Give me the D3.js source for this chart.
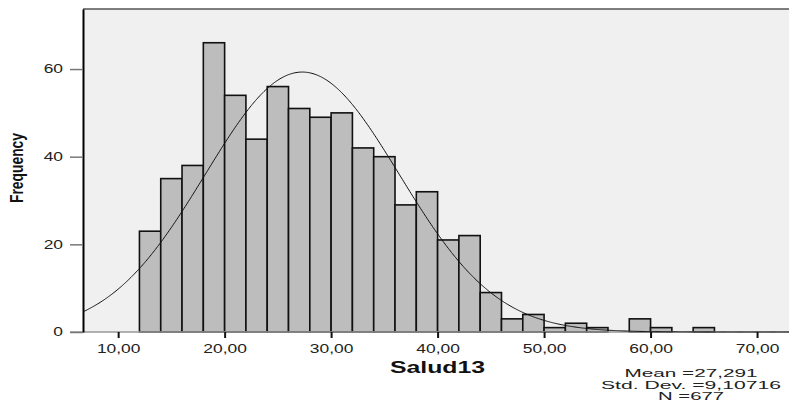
<!DOCTYPE html>
<html lang="es">
  <head>
    <meta charset="utf-8">
    <title>Salud13 histogram</title>
    <script type="text/javascript" src="https://d3js.org/d3.v7.min.js"></script>
    <style>
      body { margin: 0; background: #fff; }
      text { font-family: "Liberation Sans", Arial, sans-serif; fill: #111; }
    </style>
  </head>
  <body>
    <svg class="hist"></svg>
  </body>

  <script>
    //bin edges (lower bound of each bin, width 2) and counts
    const binStarts = [12, 14, 16, 18, 20, 22, 24, 26, 28, 30, 32, 34, 36, 38, 40, 42, 44, 46, 48, 50, 52, 54, 56, 58, 60, 62, 64];
    const counts    = [23, 35, 38, 66, 54, 44, 56, 51, 49, 50, 42, 40, 29, 32, 21, 22,  9,  3,  4,  1,  2,  1,  0,  3,  1,  0,  1];
    const binWidth = 2;
    const xTicks = [10, 20, 30, 40, 50, 60, 70];
    const yTicks = [0, 20, 40, 60];
    const mean = 27.291;
    const stdDev = 9.10716;
    const n = 677;
    const statLines = ["Mean =27,291", "Std. Dev. =9,10716", "N =677"];
    const statWidths = [133, 180, 66];

    const width = 790, height = 403;
    const plot = {left: 83, right: 789, top: 9, bottom: 332};

    const svg = d3.select(".hist").attr("width", width).attr("height", height);

    const x = d3.scaleLinear().domain([6.7, 73.0]).range([plot.left, plot.right]);
    const y = d3.scaleLinear().domain([0, 73.7]).range([plot.bottom, plot.top]);

    const es = d3.formatLocale({decimal: ",", thousands: ".", grouping: [3], currency: ["", ""]});
    const fmt = es.format(".2f");

    //the text in the picture is stretched sideways, so widen each label by a factor
    function stretch(sel, k) {
      sel.each(function() {
        var w = this.getComputedTextLength();
        d3.select(this).attr("textLength", w * k).attr("lengthAdjust", "spacingAndGlyphs");
      });
    }

    //plot background
    svg.append("rect")
      .attr("x", plot.left).attr("y", plot.top)
      .attr("width", plot.right - plot.left).attr("height", plot.bottom - plot.top)
      .attr("fill", "#f0f0f0");

    svg.append("line")
      .attr("x1", plot.left).attr("x2", plot.right)
      .attr("y1", plot.top).attr("y2", plot.top)
      .attr("stroke", "#555").attr("stroke-width", 1.5);

    //bars
    svg.selectAll(".bar")
      .data(binStarts)
      .enter().append("rect")
        .attr("class", "bar")
        .attr("x", d => x(d))
        .attr("width", d => x(d + binWidth) - x(d))
        .attr("y", (d, i) => y(counts[i]))
        .attr("height", (d, i) => y(0) - y(counts[i]))
        .attr("fill", "#bdbdbd")
        .attr("stroke", "#111")
        .attr("stroke-width", 1.6);

    //baseline
    svg.append("line")
      .attr("x1", 70).attr("x2", plot.right)
      .attr("y1", y(0)).attr("y2", y(0))
      .attr("stroke", "#999").attr("stroke-width", 1.5);

    //normal curve
    const curveXs = d3.range(6.7, 73.01, 0.1);
    const norm = v => n * binWidth / (stdDev * Math.sqrt(2 * Math.PI)) * Math.exp(-0.5 * Math.pow((v - mean) / stdDev, 2));
    svg.append("path")
      .datum(curveXs)
      .attr("fill", "none")
      .attr("stroke", "#111")
      .attr("stroke-width", 1)
      .attr("d", d3.line().x(d => x(d)).y(d => y(norm(d))));

    //y axis
    const yAxis = svg.append("g")
      .attr("transform", "translate(" + plot.left + ",0)")
      .call(d3.axisLeft(y).tickValues(yTicks).tickSize(13).tickPadding(7).tickSizeOuter(0));
    yAxis.select(".domain").attr("stroke", "#000").attr("stroke-width", 2);
    yAxis.selectAll(".tick line").attr("stroke", "#777").attr("stroke-width", 1.5);
    yAxis.selectAll(".tick text").attr("font-size", 12).style("fill", "#222").call(stretch, 1.45);

    //x axis
    const xAxis = svg.append("g")
      .attr("transform", "translate(0," + plot.bottom + ")")
      .call(d3.axisBottom(x).tickValues(xTicks).tickFormat(fmt).tickSize(6).tickPadding(6).tickSizeOuter(0));
    xAxis.select(".domain").remove();
    xAxis.selectAll(".tick line").attr("stroke", "#111").attr("stroke-width", 2);
    xAxis.selectAll(".tick text").attr("font-size", 12).style("fill", "#222").call(stretch, 1.45);

    //axis titles
    svg.append("text")
      .attr("x", 390).attr("y", 373)
      .attr("font-size", 16).attr("font-weight", "bold")
      .text("Salud13")
      .call(stretch, 1.55);

    svg.append("text")
      .attr("transform", "translate(23,168) rotate(-90)")
      .attr("text-anchor", "middle")
      .attr("font-size", 18).attr("font-weight", "bold")
      .attr("textLength", 70).attr("lengthAdjust", "spacingAndGlyphs")
      .text("Frequency");

    //summary stats, packed tightly as in the picture
    svg.selectAll(".stat")
      .data(statLines)
      .enter().append("text")
        .attr("class", "stat")
        .attr("x", 691)
        .attr("y", (d, i) => 377 + i * 11.5)
        .attr("text-anchor", "middle")
        .attr("font-size", 10.5)
        .attr("textLength", (d, i) => statWidths[i])
        .attr("lengthAdjust", "spacingAndGlyphs")
        .style("fill", "#222")
        .text(d => d);
  </script>
</html>
